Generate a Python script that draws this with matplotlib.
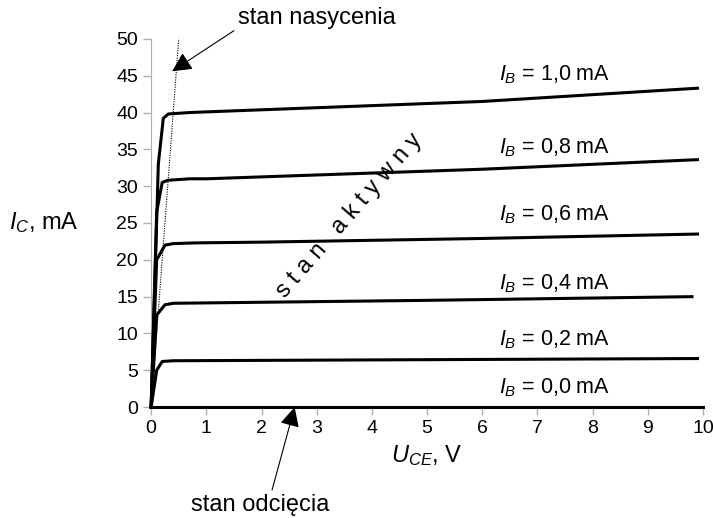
import matplotlib.pyplot as plt

plt.rcParams['font.family'] = ['Liberation Sans', 'DejaVu Sans']
plt.rcParams['mathtext.fontset'] = 'custom'
plt.rcParams['mathtext.rm'] = 'Liberation Sans'
plt.rcParams['mathtext.it'] = 'Liberation Sans:italic'

# charakterystyki wyjsciowe tranzystora
ib_labels = ['1,0', '0,8', '0,6', '0,4', '0,2', '0,0']
uce = [
    [0, 0.13, 0.22, 0.31, 0.7, 6.0, 9.9],
    [0, 0.1, 0.2, 0.3, 0.7, 1.0, 6.0, 9.9],
    [0, 0.1, 0.25, 0.4, 0.8, 2.0, 6.0, 9.9],
    [0, 0.1, 0.25, 0.4, 5.0, 9.8],
    [0, 0.1, 0.2, 0.4, 9.9],
    [0, 10],
]
ic = [
    [0, 33, 39.2, 39.8, 40.0, 41.5, 43.3],
    [0, 26.5, 30.5, 30.8, 31.0, 31.0, 32.3, 33.6],
    [0, 20, 22.0, 22.2, 22.3, 22.4, 22.9, 23.5],
    [0, 12.5, 13.9, 14.1, 14.5, 15.0],
    [0, 5, 6.2, 6.3, 6.6],
    [0, 0],
]
label_x = 6.3
label_y = [45.1, 35.2, 26.1, 16.7, 9.1, 2.7]

# granica nasycenia
sat_x = [0, 0.5]
sat_y = [0, 50]

fig = plt.figure(figsize=(7.13, 5.18), dpi=100)
ax = fig.add_axes([0.212, 0.214, 0.774, 0.711])

for xs, ys in zip(uce, ic):
    ax.plot(xs, ys, color='k', lw=2.2, clip_on=False, zorder=3)

for lab, yy in zip(ib_labels, label_y):
    ax.text(label_x, yy, '$I_B$ = ' + lab + ' mA', fontsize=15.5, va='center')

ax.plot(sat_x, sat_y, color='k', lw=0.8, ls=(0, (1, 1.2)), clip_on=False)

ax.set_xlim(0, 10)
ax.set_ylim(0, 50)
ax.set_xticks(range(0, 11))
ax.set_yticks(range(0, 51, 5))
ax.tick_params(labelsize=14, color='#b0b0b0', length=6, width=1)
for s in ['top', 'right']:
    ax.spines[s].set_visible(False)
for s in ['left', 'bottom']:
    ax.spines[s].set_color('#b0b0b0')

ax.set_xlabel('$U_{CE}$, V', fontsize=17, labelpad=4)
ax.set_ylabel('$I_C$, mA', fontsize=17, rotation=0, labelpad=52, va='center')

ax.annotate('stan nasycenia', xy=(0.38, 45.6), xytext=(3.0, 52.8),
            fontsize=17, ha='center', va='center', annotation_clip=False,
            arrowprops=dict(arrowstyle='-|>', color='k', lw=0.8,
                            mutation_scale=30, shrinkA=1, shrinkB=0,
                            relpos=(0.0, 0.05)))
ax.annotate('stan odcięcia', xy=(2.6, 0), xytext=(1.97, -13.3),
            fontsize=17, ha='center', va='center', annotation_clip=False,
            arrowprops=dict(arrowstyle='-|>', color='k', lw=0.8,
                            mutation_scale=30, shrinkA=1, shrinkB=0,
                            relpos=(0.58, 1.0)))

ax.text(3.6, 26.0, 's t a n   a k t y w n y', fontsize=17, rotation=49,
        ha='center', va='center')

fig.savefig('out.png', dpi=100)
